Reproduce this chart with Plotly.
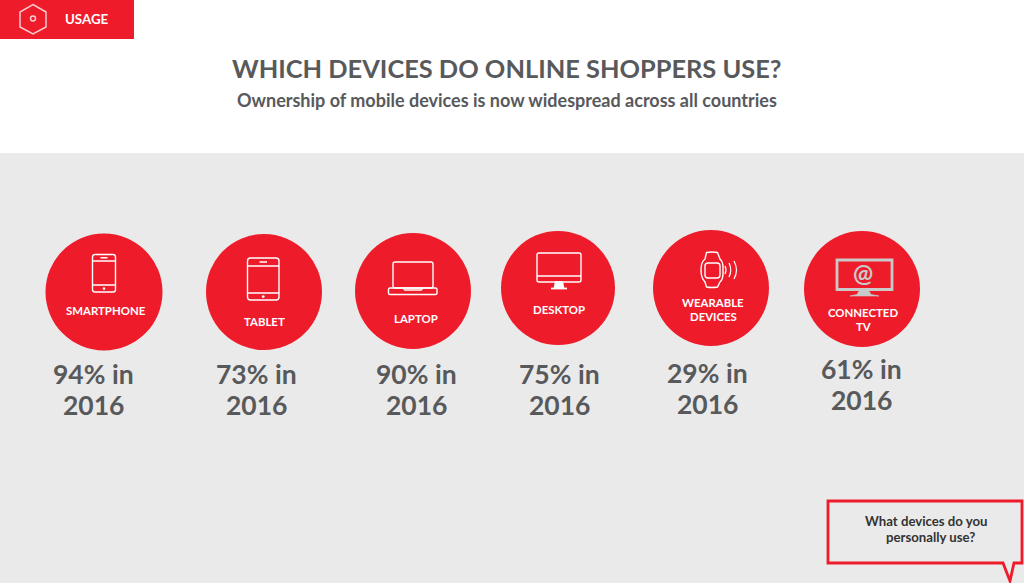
import plotly.graph_objects as go

devices = ["SMARTPHONE", "TABLET", "LAPTOP", "DESKTOP", "WEARABLE|DEVICES", "CONNECTED|TV"]
ownership_pct = [94, 73, 90, 75, 29, 61]
year = 2016
title_text = "WHICH DEVICES DO ONLINE SHOPPERS USE?"
subtitle_text = "Ownership of mobile devices is now widespread across all countries"
section_text = "USAGE"
callout_lines = ["What devices do you", "personally use?"]

circle_x = [104, 264, 413, 558, 711, 862]
circle_y = [292, 292, 291, 288, 288, 289]
circle_r = [58.5, 58, 58, 57, 58, 58]
name_x = [106, 264, 416, 559, 713, 863]
name_y = [310, 321, 318, 309, 302, 312]
value_x = [93, 256, 416, 559, 707, 861]
value_y = [374, 374, 374, 374, 373, 369]

RED = "#EE1C2A"
GREY = "#58595B"
BG = "#EAEAEA"
FONT = "Lato"
shapes = []


def rrect(x0, y0, x1, y1, r):
    return (f"M{x0+r},{y0} L{x1-r},{y0} Q{x1},{y0} {x1},{y0+r} L{x1},{y1-r} Q{x1},{y1} {x1-r},{y1} "
            f"L{x0+r},{y1} Q{x0},{y1} {x0},{y1-r} L{x0},{y0+r} Q{x0},{y0} {x0+r},{y0} Z")


def stroke(path, color="white", w=1.4, fill=None):
    shapes.append(dict(type="path", path=path, line=dict(color=color, width=w),
                       fillcolor=fill if fill else "rgba(0,0,0,0)", layer="above"))


def disc(x0, y0, x1, y1, color, w=0):
    shapes.append(dict(type="circle", x0=x0, y0=y0, x1=x1, y1=y1, fillcolor=color,
                       line=dict(color=color, width=w), layer="above"))


# page regions
shapes.append(dict(type="rect", x0=0, x1=1024, y0=153, y1=583, fillcolor=BG, line_width=0, layer="below"))
shapes.append(dict(type="rect", x0=0, x1=134, y0=0, y1=39, fillcolor=RED, line_width=0, layer="below"))
stroke("M33,4.5 L46,12 L46,27 L33,34 L20,27 L20,12 Z", "#F9C9CC", 1.5)
shapes.append(dict(type="circle", x0=30.5, x1=35.5, y0=16, y1=21, line=dict(color="#F9C9CC", width=1.5), layer="above"))

# callout
stroke("M828,501 L1022,501 L1022,563 L1014,563 L1010,581 L1003,563 L828,563 Z", "#EE1C2A", 2.8, BG)

# red circles
for cx, cy, r in zip(circle_x, circle_y, circle_r):
    disc(cx - r, cy - r, cx + r, cy + r, RED)

# smartphone
stroke(rrect(92.5, 254.5, 115.5, 292, 2.5))
stroke("M92.5,261 L115.5,261 M92.5,285 L115.5,285 M100.5,257.7 L107.5,257.7")
disc(102.7, 287.3, 105.3, 289.9, "white")
# tablet
stroke(rrect(247.5, 258, 279, 300, 3))
stroke("M247.5,266 L279,266 M247.5,293 L279,293 M259.5,262 L267,262")
disc(261.8, 295.2, 264.6, 298, "white")
# laptop
stroke(rrect(393, 262, 433, 288, 2))
stroke(rrect(388.5, 288, 437, 294.5, 1.5))
stroke("M404,288 L404,289 Q404,290 405,290 L421,290 Q422,290 422,289 L422,288")
# desktop
stroke(rrect(537, 253, 581, 282, 2))
stroke("M537,276 L581,276")
stroke("M555.5,282 L562.5,282 L563.5,287.5 L554.5,287.5 Z", fill="white")
stroke("M551,288.5 L567,288.5", w=1.8)
# wearable
stroke("M705,259 L706.5,252.5 Q712,251.5 717.5,252.5 L720,259 Q723.5,262 723,270 Q723.5,279 720,282 L717.5,287 Q712,288 706.5,287 L705,282 Q701,278 701,270 Q701,262 705,259 Z")
stroke(rrect(705, 263, 720, 278, 3))
stroke("M725,266 Q727,270 725,274 M729,263 Q732.5,270 729,277 M734,261 Q739,270 734,279", w=1.2)
# connected TV
TV = "#C9C9C9"
stroke("M837,260 L892,260 L892,289.5 L837,289.5 Z", TV, 2.8)
stroke("M859,291 L869,291 L871,294.5 L879,296 L850,296 L857,294.5 Z", TV, 0.6, TV)

ann = []


def text(x, y, s, size, color, bold=True, xanchor="center"):
    if bold:
        s = f"<b>{s}</b>"
    ann.append(dict(x=x, y=y, xref="x", yref="y", text=s, showarrow=False, xanchor=xanchor, yanchor="middle",
                    font=dict(family=FONT, size=size, color=color)))


text(507, 68, title_text, 25.4, GREY)
text(507, 99.5, subtitle_text, 18, GREY)
text(86.5, 18.5, section_text, 13.3, "white")
text(926.5, 521, callout_lines[0], 13.2, "#333333")
text(930, 537, callout_lines[1], 13.2, "#333333")
text(862.5, 272.5, "@", 24, TV)

for name, nx, ny in zip(devices, name_x, name_y):
    for i, part in enumerate(name.split("|")):
        text(nx, ny + i * 14, part, 11.4, "white")

for v, vx, vy in zip(ownership_pct, value_x, value_y):
    text(vx, vy, f"{v}% in", 26.5, GREY)
    text(vx, vy + 31, str(year), 26.5, GREY)

fig = go.Figure()
fig.add_trace(go.Scatter(x=[0, 1024], y=[0, 583], mode="markers", marker=dict(opacity=0), hoverinfo="skip", showlegend=False))
fig.update_layout(
    width=1024, height=583, margin=dict(l=0, r=0, t=0, b=0), paper_bgcolor="white", plot_bgcolor="white",
    xaxis=dict(range=[0, 1024], visible=False, fixedrange=True),
    yaxis=dict(range=[583, 0], visible=False, fixedrange=True),
    shapes=shapes, annotations=ann, showlegend=False,
)
fig.write_html("out.html", config=dict(displayModeBar=False),
               post_script="document.body.style.margin='0';document.body.style.overflow='hidden';")
